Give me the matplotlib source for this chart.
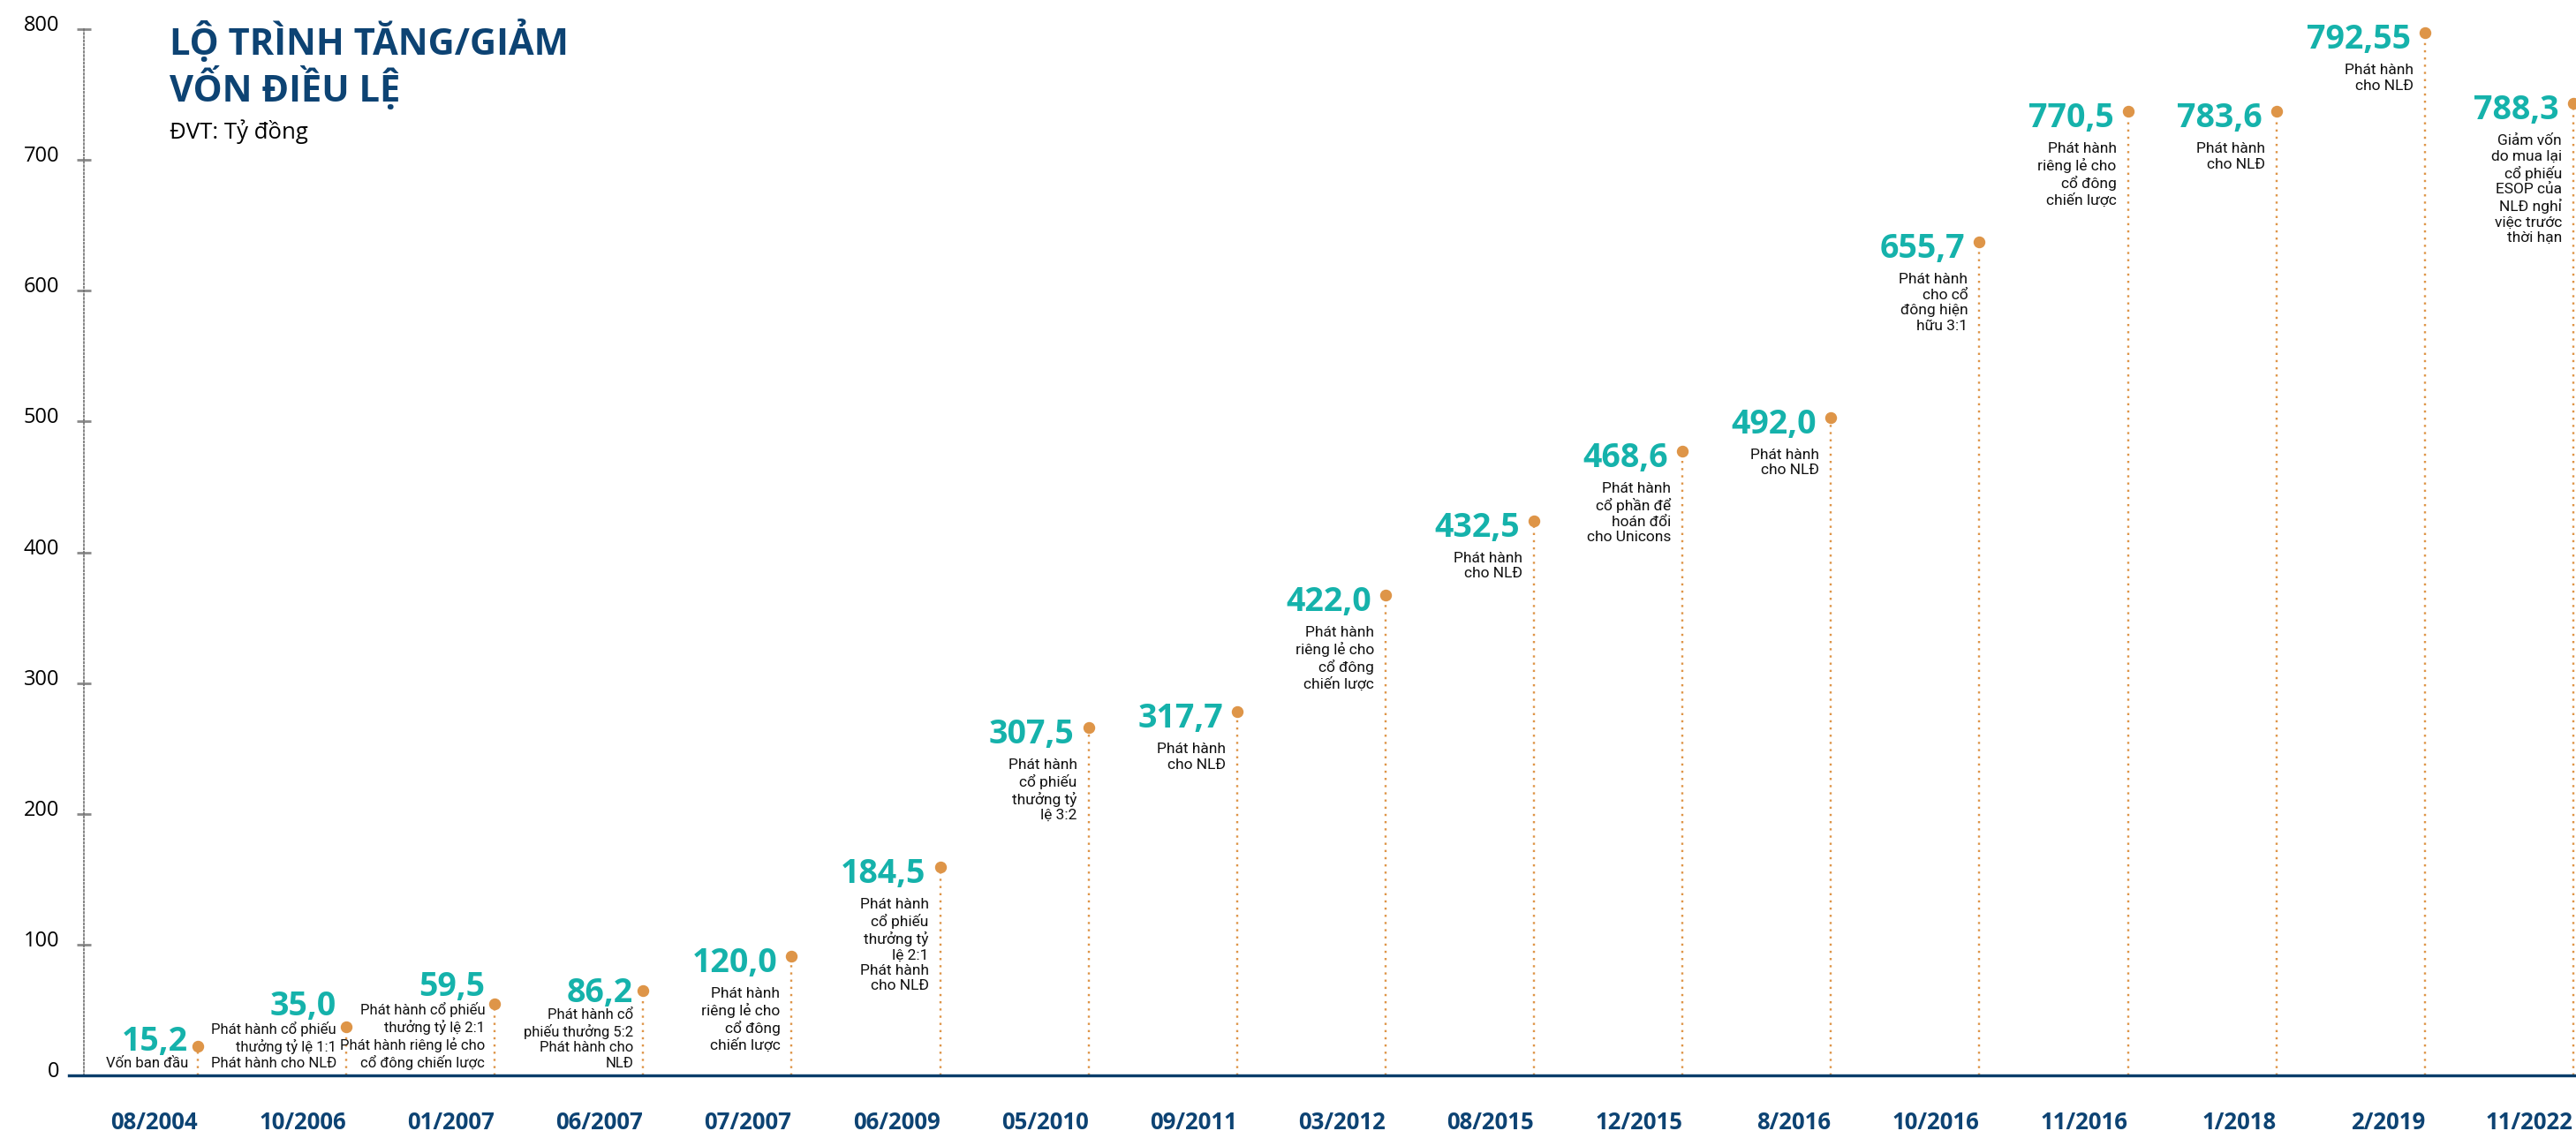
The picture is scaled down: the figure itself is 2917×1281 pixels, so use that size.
import matplotlib
matplotlib.use("Agg")
from matplotlib import pyplot as plt
from matplotlib import transforms

plt.rcParams['font.family'] = ['Open Sans', 'DejaVu Sans']

# --- data ---
periods = ["08/2004", "10/2006", "01/2007", "06/2007", "07/2007", "06/2009",
           "05/2010", "09/2011", "03/2012", "08/2015", "12/2015", "8/2016",
           "10/2016", "11/2016", "1/2018", "2/2019", "11/2022"]
charter_capital = [15.2, 35.0, 59.5, 86.2, 120.0, 184.5, 307.5, 317.7, 422.0,
                   432.5, 468.6, 492.0, 655.7, 770.5, 783.6, 792.55, 788.3]
# height of the orange marker on the y scale (as drawn in the reference)
marker_level = [22, 37, 55, 65, 91, 159, 266, 278, 367, 424, 477, 503,
                637, 737, 737, 797, 743]
events = [
    "Vốn ban đầu",
    "Phát hành cổ phiếu\nthưởng tỷ lệ 1:1\nPhát hành cho NLĐ",
    "Phát hành cổ phiếu\nthưởng tỷ lệ 2:1\nPhát hành riêng lẻ cho\ncổ đông chiến lược",
    "Phát hành cổ\nphiếu thưởng 5:2\nPhát hành cho\nNLĐ",
    "Phát hành\nriêng lẻ cho\ncổ đông\nchiến lược",
    "Phát hành\ncổ phiếu\nthưởng tỷ\nlệ 2:1\nPhát hành\ncho NLĐ",
    "Phát hành\ncổ phiếu\nthưởng tỷ\nlệ 3:2",
    "Phát hành\ncho NLĐ",
    "Phát hành\nriêng lẻ cho\ncổ đông\nchiến lược",
    "Phát hành\ncho NLĐ",
    "Phát hành\ncổ phần để\nhoán đổi\ncho Unicons",
    "Phát hành\ncho NLĐ",
    "Phát hành\ncho cổ\nđông hiện\nhữu 3:1",
    "Phát hành\nriêng lẻ cho\ncổ đông\nchiến lược",
    "Phát hành\ncho NLĐ",
    "Phát hành\ncho NLĐ",
    "Giảm vốn\ndo mua lại\ncổ phiếu\nESOP của\nNLĐ nghỉ\nviệc trước\nthời hạn",
]
y_ticks = [0, 100, 200, 300, 400, 500, 600, 700, 800]

NAVY = "#0D4373"
TEAL = "#15B2AB"
ORANGE = "#DE9548"
DESC_FONT = ['Roboto', 'DejaVu Sans']
PX = 0.72  # points per pixel at dpi 100


def fmt_value(v):
    s = f"{v:.1f}" if round(v, 1) == v else f"{v:.2f}"
    return s.replace(".", ",")


fig = plt.figure(figsize=(29.17, 12.81), dpi=100)
ax = fig.add_axes([95 / 2917, 63 / 1281, 1 - 95 / 2917, (1218 - 33) / 1281])

x = list(range(len(periods)))
ax.set_xlim(-0.767, 16.018)
ax.set_ylim(0, 800)

# dotted drop lines + dots
ax.vlines(x, 0, marker_level, colors=ORANGE, linewidth=2.4 * PX,
          linestyles=(0, (1, 2.4)), zorder=2)
ax.plot(x, marker_level, "o", color=ORANGE, markersize=12 * PX,
        linestyle="none", clip_on=False, zorder=3)

# base line
ax.axhline(0, xmin=-(95 - 78) / 2822, xmax=1, color="#0A3D6A",
           linewidth=3.4 * PX, clip_on=False, zorder=4)

for i in x:
    val = fmt_value(charter_capital[i])
    lvl = marker_level[i]
    if lvl < 80:
        # low points: stack description then value above the base line
        desc = ax.annotate(events[i], xy=(i, 0), xytext=(-11 * PX, 6 * PX),
                           textcoords="offset points", ha="right", va="bottom",
                           fontsize=12, family=DESC_FONT, color="#111111",
                           linespacing=1.22)
        ax.annotate(val, xy=(1, 1), xycoords=desc, xytext=(0, -2 * PX),
                    textcoords="offset points", ha="right", va="bottom",
                    fontsize=27, fontweight="bold", color=TEAL)
    else:
        ax.annotate(val, xy=(i, lvl), xytext=(-16 * PX, -18 * PX),
                    textcoords="offset points", ha="right", va="baseline",
                    fontsize=27, fontweight="bold", color=TEAL)
        ax.annotate(events[i], xy=(i, lvl), xytext=(-13 * PX, -35 * PX),
                    textcoords="offset points", ha="right", va="top",
                    fontsize=12.5, family=DESC_FONT, color="#111111",
                    linespacing=1.2)

# axes styling
for side in ["top", "right", "bottom"]:
    ax.spines[side].set_visible(False)
ax.spines["left"].set_linestyle((0, (1, 1.5)))
ax.spines["left"].set_color("#707070")
ax.spines["left"].set_linewidth(1.2)

ax.set_yticks(y_ticks)
ax.set_yticklabels([str(t) for t in y_ticks])
ax.tick_params(axis="y", direction="inout", length=12, width=2, color="#8A8A8A",
               labelsize=17, pad=14, labelcolor="black")
lift = transforms.ScaledTranslation(0, 5 / 72, fig.dpi_scale_trans)
for lab in ax.get_yticklabels():
    lab.set_transform(lab.get_transform() + lift)

ax.set_xticks(x)
ax.set_xticklabels(periods, ha="right", fontsize=18.5, fontweight="bold", color=NAVY)
ax.tick_params(axis="x", length=0, pad=29)

# title block
fig.text(192 / 2917, 1 - 62 / 1281, "LỘ TRÌNH TĂNG/GIẢM", fontsize=30,
         fontweight="bold", color=NAVY, va="baseline", ha="left")
fig.text(192 / 2917, 1 - 115 / 1281, "VỐN ĐIỀU LỆ", fontsize=30,
         fontweight="bold", color=NAVY, va="baseline", ha="left")
fig.text(192 / 2917, 1 - 157 / 1281, "ĐVT: Tỷ đồng", fontsize=18.5,
         color="black", va="baseline", ha="left")

fig.savefig("out.png", dpi=100)
